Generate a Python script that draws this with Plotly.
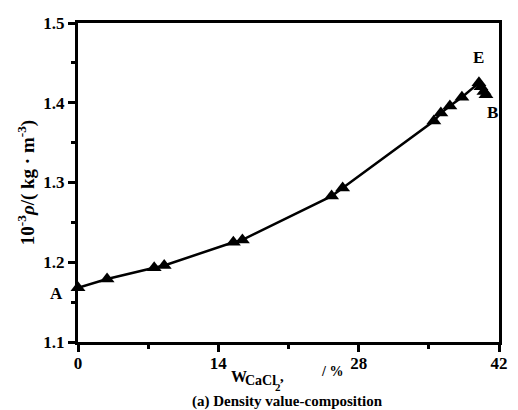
import plotly.graph_objects as go

w_cacl2 = [0.0, 2.9, 7.6, 8.6, 15.5, 16.4, 25.3, 26.4, 35.5, 36.2, 37.1, 38.3, 40.0, 40.2, 40.5, 40.7]
density = [1.168, 1.179, 1.193, 1.196, 1.225, 1.228, 1.283, 1.293, 1.377, 1.387, 1.396, 1.407, 1.425, 1.420, 1.414, 1.410]
x_ticks = [0, 14, 28, 42]
y_ticks = [1.1, 1.2, 1.3, 1.4, 1.5]

FONT = "Liberation Serif"
fig = go.Figure()
fig.add_trace(go.Scatter(
    x=w_cacl2, y=density, mode="lines+markers",
    line=dict(color="black", width=2.5),
    marker=dict(symbol="triangle-up", size=13, color="black"),
    cliponaxis=False, showlegend=False,
))

axis_common = dict(showline=True, linecolor="black", linewidth=3, mirror=True,
                   ticks="outside", ticklen=7, tickwidth=3, tickcolor="black",
                   showgrid=False, zeroline=False,
                   tickfont=dict(family=FONT, size=17, color="black", weight="bold"))
fig.update_xaxes(range=[0, 42], tickvals=x_ticks, ticktext=[str(v) for v in x_ticks],
                 minor=dict(tickvals=[7, 21, 35], ticklen=4, tickwidth=3, tickcolor="black", ticks="outside"),
                 ticklabelstandoff=-3, **axis_common)
fig.update_yaxes(range=[1.1, 1.5], tickvals=y_ticks, ticktext=[f"{v:.1f}" for v in y_ticks],
                 minor=dict(tickvals=[1.15, 1.25, 1.35, 1.45], ticklen=4, tickwidth=3, tickcolor="black", ticks="outside"),
                 title=dict(text="10<sup>-3</sup><i>ρ</i>/( kg · m<sup>-3</sup>)",
                            font=dict(family=FONT, size=19, color="black", weight="bold"), standoff=4),
                 **axis_common)

anns = [
    dict(x=0, y=1.168, text="A", xanchor="right", yanchor="top", xshift=-13, yshift=6),
    dict(x=40.0, y=1.425, text="E", xanchor="center", yanchor="bottom", yshift=14),
    dict(x=40.7, y=1.410, text="B", xanchor="center", yanchor="top", xshift=7, yshift=-6),
]
for a in anns:
    fig.add_annotation(xref="x", yref="y", showarrow=False,
                       font=dict(family=FONT, size=17, color="black", weight="bold"), **a)

# x-axis title built from pieces (nested subscript)
title_parts = [
    ("W", 0.358, -0.109, 16),
    ("CaCl", 0.393, -0.120, 14),
    ("2", 0.462, -0.140, 11),
    (",", 0.476, -0.108, 15),
    ("/ %", 0.572, -0.093, 14),
]
for txt, px, py, sz in title_parts:
    fig.add_annotation(xref="paper", yref="paper", x=px, y=py, xanchor="left", yanchor="middle",
                       showarrow=False, text=txt,
                       font=dict(family=FONT, size=sz, color="black", weight="bold"))

fig.add_annotation(xref="paper", yref="paper", x=0.4965, y=-0.185, yanchor="middle", showarrow=False,
                   text="(a) Density value-composition",
                   font=dict(family=FONT, size=15, color="black", weight="bold"))

fig.update_layout(width=518, height=410, margin=dict(l=78, r=10, t=23, b=68),
                  plot_bgcolor="white", paper_bgcolor="white")
fig.write_html("out.html")
